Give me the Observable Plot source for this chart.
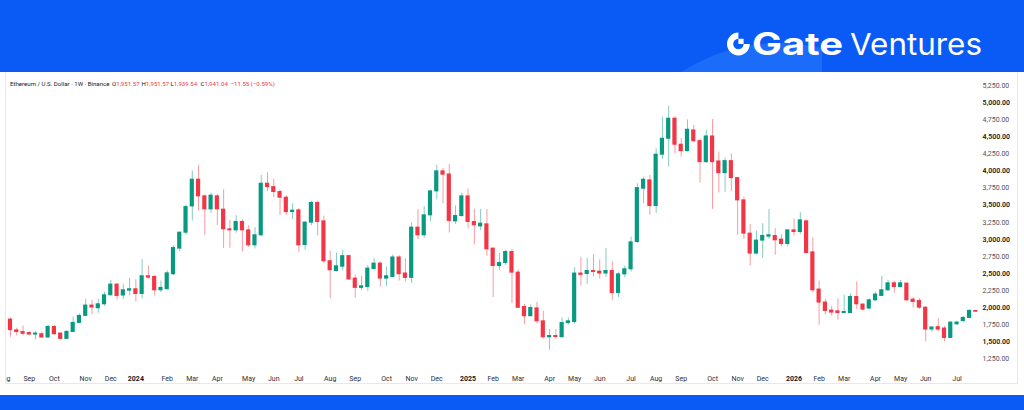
<!DOCTYPE html>
<html>
<head>
<meta charset="utf-8">
<script src="https://cdn.jsdelivr.net/npm/d3@7"></script>
<script src="https://cdn.jsdelivr.net/npm/@observablehq/plot@0.6"></script>
<style>
  html, body { margin: 0; padding: 0; }
  body { width: 1024px; height: 410px; background: #0a5bf5; overflow: hidden; position: relative; font-family: Roboto, "Noto Sans", sans-serif; }
  #banner { position: absolute; left: 0; top: 0; width: 1024px; height: 72px; }
  #panel { position: absolute; left: 0; top: 72px; width: 1024px; height: 323px; background: #ffffff; }
  #pane { position: absolute; left: 5px; top: 0; width: 1013px; height: 312px; border-left: 1px solid #e6e8ee; border-right: 1px solid #e6e8ee; border-bottom: 1px solid #e6e8ee; box-sizing: border-box; overflow: hidden; }
  #chart { position: absolute; left: -1px; top: 0; }
  #header { position: absolute; left: -1px; top: 0; }
</style>
</head>
<body>
<svg id="banner" width="1024" height="72" viewBox="0 0 1024 72">
  <defs>
    <clipPath id="lclip"><rect x="0" y="0" width="822" height="72"/></clipPath>
    <mask id="iconMask">
      <rect x="700" y="20" width="60" height="50" fill="black"/>
      <circle cx="738.4" cy="44" r="11.4" fill="white"/>
      <circle cx="738.4" cy="44" r="5.2" fill="black"/>
      <rect x="738.4" y="30" width="14" height="14" fill="black"/>
      <rect x="738.4" y="38.8" width="5.2" height="5.2" fill="white"/>
    </mask>
  </defs>
  <rect x="0" y="0" width="1024" height="72" fill="#0a5bf5"/>
  <circle cx="780" cy="226" r="183" fill="#1b6cf8" clip-path="url(#lclip)"/>
  <rect x="700" y="20" width="60" height="50" fill="#ffffff" mask="url(#iconMask)"/>
  <text x="752" y="55" font-family="Inter, 'Noto Sans', sans-serif" font-size="31" font-weight="700" fill="#ffffff" textLength="91" lengthAdjust="spacingAndGlyphs">Gate</text>
  <text x="850" y="54.5" font-family="Inter, 'Noto Sans', sans-serif" font-size="30" font-weight="400" fill="#ffffff" textLength="132" lengthAdjust="spacingAndGlyphs">Ventures</text>
</svg>
<div id="panel">
  <div id="pane">
    <div id="chart"></div>
    <svg id="header" width="400" height="20"></svg>
  </div>
</div>
<script>
// ---- Weekly ETH/USD candles (Binance, 1W), first week starting 2023-08-14 ----
const firstWeek = "2023-08-14";
const open = [
  1826,1668,1643,1628,1607,1611,1563,1718,1621,1543,
  1645,1777,1880,2031,1992,2050,2182,2338,2178,2250,
  2270,2200,2460,2450,2255,2270,2490,2865,3098,3483,
  3874,3630,3440,3630,3435,3147,3132,3255,3132,2913,
  3060,3815,3765,3693,3610,3400,3425,2917,3245,3533,
  3264,2680,2537,2600,2755,2426,2290,2303,2567,2645,
  2426,2450,2735,2500,2436,3172,3060,3352,3703,3996,
  3951,3264,3342,3630,3255,3190,3220,2865,2610,2655,
  2815,2513,2010,1875,1990,1800,1567,1585,1567,1775,
  1790,2500,2493,2537,2528,2500,2537,2215,2488,2562,
  2961,3742,3864,3488,4240,4473,4766,4386,4292,4595,
  4438,4131,4507,4141,3970,4146,3897,3571,3084,2792,
  2982,3040,3050,2996,2932,3132,3108,3264,2810,2265,
  2075,1958,1947,1922,1922,2157,2045,1987,2108,2172,
  2255,2357,2303,2352,2118,2098,2000,1680,1715,1695,
  1557,1757,1805,1850,1951.57
];
const high = [
  1850,1700,1730,1652,1660,1645,1745,1740,1630,1665,
  1860,1905,2123,2108,2123,2226,2401,2350,2338,2430,
  2410,2704,2610,2470,2390,2540,2900,3110,3500,4000,
  4083,3650,3678,3660,3727,3280,3350,3290,3200,3170,
  3937,3975,3880,3720,3640,3520,3450,3260,3560,3560,
  3340,2830,2800,2840,2770,2480,2460,2615,2718,2670,
  2597,2770,2760,2715,3240,3435,3479,3720,4083,4040,
  4098,3490,3678,3737,3440,3440,3435,2870,2792,2840,
  2850,2550,2050,2040,2080,1945,1680,1680,1850,1850,
  2587,2735,2720,2775,2700,2865,2670,2520,2610,3035,
  3815,3912,3937,4327,4790,4950,4800,4473,4751,4667,
  4470,4600,4756,4278,4190,4253,3910,3620,3216,3120,
  3230,3435,3157,3065,3140,3297,3390,3280,3025,2390,
  2125,2016,2125,2182,2200,2376,2060,2128,2230,2460,
  2400,2390,2400,2360,2148,2133,2010,1715,1840,1725,
  1790,1800,1870,1970,1951.57
];
const low = [
  1567,1590,1587,1590,1530,1550,1558,1600,1525,1535,
  1640,1765,1870,1895,1918,2020,2170,2110,2120,2172,
  2084,2128,2410,2170,2220,2260,2470,2820,3060,3268,
  3414,3060,3380,3205,2865,2870,3090,2815,2880,2860,
  3040,3703,3610,3350,3350,3290,2815,2840,3200,3050,
  2650,2133,2520,2540,2400,2142,2250,2240,2540,2303,
  2307,2440,2390,2375,2353,2997,3016,3260,3580,3523,
  3093,3220,3322,3160,2920,3130,2752,2148,2548,2620,
  2060,1990,1750,1870,1760,1540,1377,1540,1560,1750,
  1760,2320,2340,2450,2420,2440,2108,2150,2440,2520,
  2940,3523,3352,3380,4170,4058,4254,4204,4278,4420,
  3824,4110,3439,3678,3690,3700,3060,3000,2610,2770,
  2720,3000,2767,2890,2890,3050,3070,2790,2220,1743,
  1893,1879,1820,1915,1915,1977,1950,1975,2090,2160,
  2240,2215,2290,2100,1995,1972,1500,1640,1650,1500,
  1550,1740,1780,1840,1939.54
];
const close = [
  1670,1643,1618,1607,1621,1563,1718,1611,1543,1645,
  1777,1880,2031,2002,2050,2182,2338,2172,2255,2270,
  2200,2460,2440,2255,2290,2503,2873,3098,3473,3874,
  3630,3440,3640,3440,3147,3132,3255,3132,2913,3060,
  3815,3765,3693,3610,3400,3420,2913,3245,3533,3255,
  2680,2548,2606,2755,2413,2290,2313,2572,2645,2426,
  2460,2735,2490,2436,3172,3060,3352,3703,3996,3947,
  3270,3342,3630,3255,3206,3230,2855,2610,2655,2815,
  2513,1998,1875,1995,1800,1567,1585,1570,1775,1800,
  2500,2480,2537,2523,2500,2537,2215,2488,2562,2957,
  3751,3874,3488,4240,4473,4766,4386,4292,4605,4438,
  4131,4507,4131,3970,4146,3897,3571,3084,2792,2982,
  3050,3060,2986,2932,3132,3108,3279,2800,2255,2075,
  1952,1928,1922,1937,2157,2050,1972,2108,2192,2255,
  2357,2303,2357,2108,2084,2000,1680,1710,1680,1557,
  1782,1782,1850,1952.59,1941.04
];

// ---- Axis ticks ----
const priceTicksMajor = [5000, 4500, 4000, 3500, 3000, 2500, 2000, 1500];
const priceTicksMinor = [5250, 4750, 4250, 3750, 3250, 2750, 2250, 1750, 1250];
const timeTickDates = [
  "2023-08-07","2023-09-04","2023-10-02","2023-11-06","2023-12-04",
  "2024-01-01","2024-02-05","2024-03-04","2024-04-01","2024-05-06","2024-06-03",
  "2024-07-01","2024-08-05","2024-09-02","2024-10-07","2024-11-04","2024-12-02",
  "2025-01-06","2025-02-03","2025-03-03","2025-04-07","2025-05-05","2025-06-02",
  "2025-07-07","2025-08-04","2025-09-01","2025-10-06","2025-11-03","2025-12-01",
  "2026-01-05","2026-02-02","2026-03-02","2026-04-06","2026-05-04","2026-06-01","2026-07-06"
];
const timeTickLabels = [
  "Aug","Sep","Oct","Nov","Dec",
  "2024","Feb","Mar","Apr","May","Jun",
  "Jul","Aug","Sep","Oct","Nov","Dec",
  "2025","Feb","Mar","Apr","May","Jun",
  "Jul","Aug","Sep","Oct","Nov","Dec",
  "2026","Feb","Mar","Apr","May","Jun","Jul"
];

const symbolTitle = "Ethereum / U.S. Dollar · 1W · Binance";

// ---- Build tables ----
const start = new Date(firstWeek + "T00:00:00Z");
const candles = open.map((o, i) => ({
  date: d3.utcDay.offset(start, 7 * i),
  open: o, high: high[i], low: low[i], close: close[i],
  up: close[i] >= o
}));
const ups = candles.filter(d => d.up);
const downs = candles.filter(d => !d.up);
const ticks = timeTickDates.map((s, i) => ({date: new Date(s + "T00:00:00Z"), label: timeTickLabels[i], year: /^\d{4}$/.test(timeTickLabels[i])}));
const fmt = d3.format(",.2f");

const GREEN = "#089981", RED = "#f23645";
const halfBody = 56; // hours either side of the week's date

const bodyOpts = (extra) => Object.assign({
  x1: d => d3.utcHour.offset(d.date, -halfBody),
  x2: d => d3.utcHour.offset(d.date, halfBody),
  y1: "open", y2: "close",
  insetTop: -0.5, insetBottom: -0.5
}, extra);

const chart = Plot.plot({
  width: 1013,
  height: 312,
  marginTop: 0, marginRight: 36, marginBottom: 12, marginLeft: 0,
  x: {type: "utc", domain: [candles[0].date, candles[candles.length - 1].date], range: [5, 971.3], axis: null},
  y: {type: "linear", domain: [1250, 5000], range: [286.7, 30.3], axis: null},
  style: {background: "transparent", fontFamily: "Roboto, 'Noto Sans', sans-serif", overflow: "hidden"},
  marks: [
    Plot.ruleX(ups, {x: "date", y1: "low", y2: "high", stroke: GREEN, strokeOpacity: 0.5, strokeWidth: 1}),
    Plot.ruleX(downs, {x: "date", y1: "low", y2: "high", stroke: RED, strokeOpacity: 0.5, strokeWidth: 1}),
    Plot.rect(ups, bodyOpts({fill: GREEN})),
    Plot.rect(downs, bodyOpts({fill: RED})),
    Plot.text(priceTicksMinor, {y: d => d, text: d => fmt(d), frameAnchor: "right", textAnchor: "start", dx: 1, fontSize: 7, fill: "#50535e"}),
    Plot.text(priceTicksMajor, {y: d => d, text: d => fmt(d), frameAnchor: "right", textAnchor: "start", dx: 1, fontSize: 7, fontWeight: 600, fill: "#131722"}),
    Plot.text(ticks.filter(d => !d.year), {x: "date", text: "label", frameAnchor: "bottom", lineAnchor: "middle", dy: 6.5, fontSize: 7, fill: "#2a2e39"}),
    Plot.text(ticks.filter(d => d.year), {x: "date", text: "label", frameAnchor: "bottom", lineAnchor: "middle", dy: 6.5, fontSize: 7, fontWeight: 700, fill: "#131722"})
  ]
});
document.getElementById("chart").appendChild(chart);

// ---- Header legend from the last candle ----
const last = candles[candles.length - 1];
const prev = candles[candles.length - 2];
const chg = last.close - prev.close;
const pct = chg / prev.close * 100;
const signed = v => (v < 0 ? "\u2212" : "+") + d3.format(",.2f")(Math.abs(v));
const hdr = d3.select("#header");
const hdrFont = "Roboto, 'Noto Sans', sans-serif";
hdr.append("text")
  .attr("x", 5).attr("y", 13.5)
  .attr("font-size", 6.1).attr("fill", "#131722")
  .attr("font-family", hdrFont)
  .text(symbolTitle);
const fieldX = [107, 136.5, 165.5, 195.5];
[["O", last.open], ["H", last.high], ["L", last.low], ["C", last.close]].forEach(([k, v], i) => {
  const t = hdr.append("text").attr("x", fieldX[i]).attr("y", 13.5)
    .attr("font-size", 6.1).attr("font-family", hdrFont);
  t.append("tspan").attr("fill", "#131722").text(k);
  t.append("tspan").attr("fill", RED).text(fmt(v));
});
hdr.append("text").attr("x", 225.5).attr("y", 13.5)
  .attr("font-size", 6.1).attr("font-family", hdrFont).attr("fill", RED)
  .text(signed(chg) + " (" + signed(pct) + "%)");
</script>
</body>
</html>
